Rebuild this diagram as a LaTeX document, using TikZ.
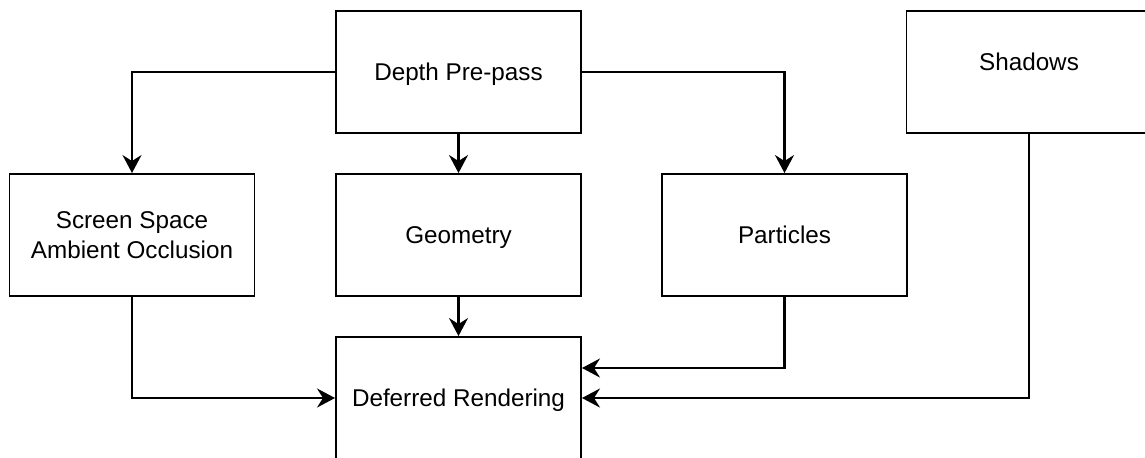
\documentclass[tikz,border=0pt]{standalone}
\usepackage{fontspec}
\setmainfont{Liberation Sans}
\usepackage{tikz}
\usetikzlibrary{shapes, arrows.meta, positioning}
\usetikzlibrary{calc}

\begin{document}
\begin{tikzpicture}
  [
    Box/.style={rectangle, draw=black, fill=white, line width=1.1pt, minimum width=4.9cm, minimum height=2.44cm,
      align=center, text height=1.12em, text depth=0.21em, font=\fontsize{13.8}{16.6}\selectfont},
    Flow/.style={-{Stealth[length=0.36cm, width=0.38cm, inset=0.12cm]}, draw, line width=1.2pt}
  ]
  \clip (0, 0) rectangle (22.9, -9.14);
  % Nodes
  \node[Box] (depth) at(9.17, -1.44) {Depth Pre-pass};
  \node[Box, label={[yshift=0.2cm, font=\fontsize{13.8}{16.6}\selectfont]center:Shadows}] (shadows) at(20.58, -1.44) {};
  \node[Box, text height=, text depth=0pt] (ssao) at(2.64, -4.70) {Screen Space\\Ambient Occlusion};
  \node[Box] (geometry) at(9.17, -4.70) {Geometry};
  \node[Box] (particles) at(15.69, -4.70) {Particles};
  \node[Box] (deferred) at(9.17, -7.96) {Deferred Rendering};
  % Lines
  \path [Flow] (depth.west) -| (ssao.north);
  \path [Flow] (depth) -- (geometry);
  \path [Flow] (depth.east) -| (particles.north);
  \path [Flow] (ssao.south) |- (deferred.west);
  \path [Flow] (geometry) -- (deferred);
  \path [Flow] (particles.south) |- ([yshift=0.6cm]deferred.east);
  \path [Flow] (shadows.south) |- (deferred.east);
\end{tikzpicture}
\end{document}
